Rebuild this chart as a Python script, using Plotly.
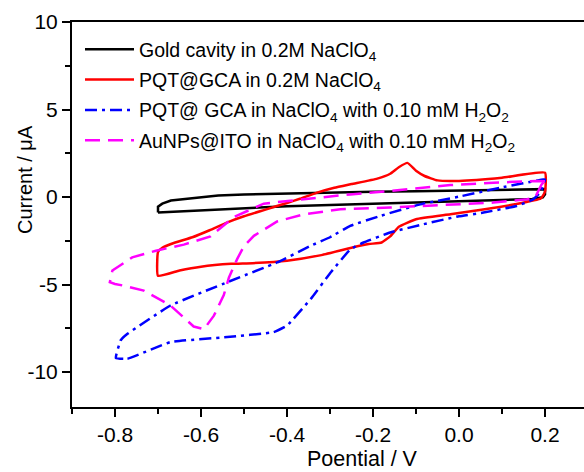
import plotly.graph_objects as go

# ---- data (Potential / V, Current / uA) ----
gold_x = [-0.70, -0.60, -0.50, -0.40, -0.30, -0.20, -0.10, 0.00, 0.10, 0.17, 0.195, 0.20, 0.20,
          0.10, 0.00, -0.10, -0.20, -0.30, -0.40, -0.50, -0.56, -0.62, -0.67, -0.69, -0.70, -0.70]
gold_y = [-0.88, -0.75, -0.63, -0.53, -0.45, -0.38, -0.31, -0.25, -0.18, -0.12, -0.02, 0.15, 0.45,
          0.40, 0.36, 0.33, 0.30, 0.26, 0.22, 0.15, 0.08, -0.05, -0.20, -0.38, -0.55, -0.88]

pqt_x = [-0.70, -0.65, -0.60, -0.53, -0.48, -0.40, -0.32, -0.25, -0.21, -0.18, -0.16, -0.14, -0.10,
         -0.02, 0.06, 0.13, 0.19, 0.20, 0.20,
         0.10, 0.00, -0.05, -0.08, -0.10, -0.12, -0.14, -0.16, -0.19, -0.25, -0.29, -0.33, -0.37,
         -0.40, -0.45, -0.50, -0.54, -0.58, -0.62, -0.66, -0.69, -0.70, -0.70]
pqt_y = [-4.50, -4.20, -3.98, -3.82, -3.78, -3.64, -3.32, -2.90, -2.69, -2.60, -2.25, -1.70, -1.27,
         -0.99, -0.70, -0.42, -0.09, 0.30, 1.39,
         1.10, 0.92, 0.95, 1.20, 1.50, 1.95, 1.70, 1.33, 1.05, 0.74, 0.53, 0.25, -0.10,
         -0.34, -0.72, -1.10, -1.46, -1.90, -2.30, -2.60, -2.90, -3.15, -4.50]

pqt_h2o2_x = [-0.798, -0.771, -0.671, -0.539, -0.431, -0.40, -0.345, -0.298, -0.253, -0.222, -0.16,
              -0.082, 0.00, 0.057, 0.134, 0.173, 0.19, 0.20,
              0.196, 0.096, 0.00, -0.09, -0.183, -0.253, -0.30, -0.345, -0.423, -0.539, -0.671,
              -0.771, -0.787, -0.798]
pqt_h2o2_y = [-9.20, -9.24, -8.29, -8.00, -7.72, -7.35, -5.83, -4.30, -3.00, -2.60, -2.03,
              -1.55, -1.10, -0.89, -0.51, -0.13, 0.30, 1.00,
              1.00, 0.53, 0.02, -0.42, -1.08, -1.65, -2.30, -2.79, -3.74, -4.87, -6.20,
              -7.82, -8.20, -9.20]

au_x = [0.20, 0.18, 0.08, -0.02, -0.16, -0.253, -0.361, -0.454, -0.524, -0.578, -0.64, -0.705,
        -0.76, -0.806, -0.812, -0.80, -0.779, -0.733, -0.671, -0.617, -0.593, -0.57, -0.547,
        -0.535, -0.516, -0.50, -0.477, -0.423, -0.361, -0.276, -0.16, -0.02, 0.08, 0.158,
        0.177, 0.192, 0.20]
au_y = [0.90, 0.91, 0.82, 0.68, 0.34, 0.15, -0.13, -0.38, -1.15, -2.25, -2.72, -3.07,
        -3.45, -4.20, -4.87, -4.97, -5.07, -5.35, -6.20, -7.40, -7.55, -6.78, -5.60,
        -4.60, -3.55, -2.80, -2.22, -1.40, -0.99, -0.70, -0.60, -0.42, -0.32, -0.13,
        -0.03, 0.72, 0.90]

x_tickvals = [-0.8, -0.6, -0.4, -0.2, 0.0, 0.2]
x_ticktext = ["-0.8", "-0.6", "-0.4", "-0.2", "0.0", "0.2"]
y_tickvals = [10, 5, 0, -5, -10]
y_ticktext = ["10", "5", "0", "-5", "-10"]

names = ["Gold cavity in 0.2M NaClO<sub>4</sub>",
         "PQT@GCA in 0.2M NaClO<sub>4</sub>",
         "PQT@ GCA in NaClO<sub>4</sub> with 0.10 mM H<sub>2</sub>O<sub>2</sub>",
         "AuNPs@ITO in NaClO<sub>4</sub> with 0.10 mM H<sub>2</sub>O<sub>2</sub>"]

FONT = "Arial, 'Liberation Sans', sans-serif"

W, H = 584, 472
ML, MT, MB, MR = 72, 22, 65, 0
PW, PH = W - ML - MR, H - MT - MB

fig = go.Figure()
fig.add_trace(go.Scatter(x=gold_x, y=gold_y, mode="lines", name=names[0], legendgroup="a",
                         line=dict(color="black", width=2.5)))
fig.add_trace(go.Scatter(x=pqt_x, y=pqt_y, mode="lines", name=names[1], legendgroup="b",
                         line=dict(color="#ff0000", width=2.5, shape="spline", smoothing=0.4)))
fig.add_trace(go.Scatter(x=pqt_h2o2_x, y=pqt_h2o2_y, mode="lines", name=names[2], legendgroup="c",
                         line=dict(color="#0000ff", width=2.5, dash="12px,5px,3px,5px",
                                   shape="spline", smoothing=0.3)))
fig.add_trace(go.Scatter(x=au_x, y=au_y, mode="lines", name=names[3], legendgroup="d",
                         line=dict(color="#ff00ff", width=2.5, dash="15px,8px")))

fig.update_layout(
    width=W, height=H,
    margin=dict(l=ML, r=MR, t=MT, b=MB),
    paper_bgcolor="white", plot_bgcolor="white",
    font=dict(family=FONT, size=20, color="black"),
    hovermode=False,
    showlegend=True,
    legend=dict(x=8 / PW, y=1 - 8 / PH, xanchor="left", yanchor="top",
                bgcolor="rgba(0,0,0,0)", borderwidth=0,
                font=dict(size=19.5), itemwidth=49, tracegroupgap=2),
    xaxis=dict(range=[-0.9, 0.2907], showgrid=False, zeroline=False,
               showline=True, linecolor="black", linewidth=2, mirror=True,
               ticks="outside", ticklen=8, tickwidth=2, tickcolor="black",
               tickvals=x_tickvals, ticktext=x_ticktext,
               minor=dict(dtick=0.1, tick0=-0.9, ticks="outside", ticklen=5,
                          tickwidth=2, tickcolor="black", showgrid=False),
               tickfont=dict(size=21)),
    yaxis=dict(range=[-12, 10], showgrid=False, zeroline=False,
               showline=True, linecolor="black", linewidth=2, mirror=False,
               ticks="outside", ticklen=8, tickwidth=2, tickcolor="black",
               tickvals=y_tickvals, ticktext=y_ticktext,
               minor=dict(dtick=2.5, tick0=0, ticks="outside", ticklen=5,
                          tickwidth=2, tickcolor="black", showgrid=False),
               tickfont=dict(size=21)),
    annotations=[
        dict(text="Poential / V", xref="paper", yref="paper",
             x=(362 - ML) / PW, y=-(459 - (H - MB)) / PH,
             xanchor="center", yanchor="middle", showarrow=False,
             font=dict(size=21.5)),
        dict(text="Current / μA", xref="paper", yref="paper",
             x=-(ML - 25) / PW, y=((H - MB) - 180) / PH,
             xanchor="center", yanchor="middle", showarrow=False,
             textangle=-90, font=dict(size=20)),
    ],
)

fig.write_html(
    "out.html",
    config={"displayModeBar": False},
    post_script="document.body.style.margin='0';document.body.style.overflow='hidden';",
)
